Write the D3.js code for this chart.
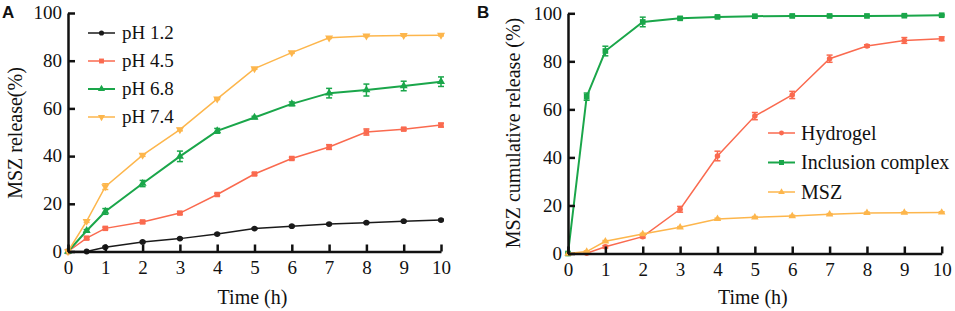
<!DOCTYPE html>
<html>
<head>
<meta charset="utf-8">
<script src="https://cdn.jsdelivr.net/npm/d3@7"></script>
<style>
  body { margin: 0; background: #fff; }
  svg text { font-family: "Liberation Serif", "Times New Roman", serif; fill: #111; }
</style>
</head>
<body>
<svg id="chart" width="955" height="311"></svg>
<script>
// time points (h), shared by both panels
const times = [0, 0.5, 1, 2, 3, 4, 5, 6, 7, 8, 9, 10];
const xTicks = [0, 1, 2, 3, 4, 5, 6, 7, 8, 9, 10];
const yTicks = [0, 20, 40, 60, 80, 100];

// panel A: release at different pH
const namesA = ["pH 1.2", "pH 4.5", "pH 6.8", "pH 7.4"];
const ph12 = [0, 0, 1.8, 4, 5.4, 7.3, 9.6, 10.6, 11.5, 12.1, 12.7, 13.2];
const ph45 = [0, 5.6, 9.7, 12.4, 16.1, 23.9, 32.5, 39, 43.8, 50.1, 51.3, 53];
const ph68 = [0, 8.7, 16.8, 28.5, 39.9, 50.6, 56.2, 61.9, 66.4, 67.7, 69.4, 71.2];
const ph74 = [0, 12.7, 27.2, 40.4, 51.1, 64, 76.7, 83.4, 89.6, 90.4, 90.6, 90.7];
const ph12Err = [0, 0, 0.3, 0.3, 0.3, 0.3, 0.3, 0.3, 0.3, 0.3, 0.3, 0.3];
const ph45Err = [0, 0.5, 0.5, 0.5, 0.5, 0.5, 0.5, 0.5, 1, 1.3, 0.5, 0.8];
const ph68Err = [0, 0.5, 1.2, 1.3, 2.2, 1, 0.5, 0.8, 2, 2.5, 2, 2];
const ph74Err = [0, 0.5, 1.2, 0.5, 0.5, 0.3, 0.3, 0.3, 0.3, 0.3, 0.3, 0.3];

// panel B: hydrogel vs inclusion complex vs free drug
const namesB = ["Hydrogel", "Inclusion complex", "MSZ"];
const hydrogel = [0, 0.1, 2.8, 7, 18.4, 40.6, 57.2, 66, 81.1, 86.4, 88.7, 89.4];
const inclusion = [0, 65.3, 84.3, 96.4, 97.9, 98.5, 98.8, 98.9, 98.9, 98.9, 99, 99.2];
const msz = [0, 0.8, 5.1, 8.1, 10.9, 14.4, 15.1, 15.6, 16.3, 16.9, 17, 17.1];
const hydrogelErr = [0, 0.3, 0.5, 0.5, 1.2, 2, 1.5, 1.5, 1.5, 0.5, 1.2, 0.8];
const inclusionErr = [0, 1.5, 2, 2, 0.5, 0.3, 0.3, 0.3, 0.3, 0.3, 0.3, 0.3];
const mszErr = [0, 0.3, 0.3, 0.3, 0.3, 0.3, 0.3, 0.3, 0.3, 0.3, 0.3, 0.3];

const colors = { black: "#1a1a1a", red: "#fa6a4f", green: "#1aa64a", yellow: "#fdb64c" };

const svg = d3.select("#chart");

function drawPanel(opt) {
  const x = d3.scaleLinear().domain([0, 10]).range([opt.left, opt.right]);
  const y = d3.scaleLinear().domain([0, 100]).range([opt.bottom, opt.top]);
  const g = svg.append("g");

  // series (drawn first so axes sit on top)
  opt.series.forEach(s => {
    const pts = times.map((t, i) => ({ t, v: s.values[i], e: s.err[i] }));
    const sg = g.append("g");
    sg.append("path")
      .datum(pts)
      .attr("fill", "none")
      .attr("stroke", s.color)
      .attr("stroke-width", s.width)
      .attr("d", d3.line().x(d => x(d.t)).y(d => y(d.v)));

    // error bars
    const eb = sg.selectAll(".eb").data(pts.filter(d => d.e > 0)).enter().append("g");
    eb.append("line")
      .attr("x1", d => x(d.t)).attr("x2", d => x(d.t))
      .attr("y1", d => y(d.v - d.e)).attr("y2", d => y(d.v + d.e))
      .attr("stroke", s.color).attr("stroke-width", 1.5);
    eb.append("line")
      .attr("x1", d => x(d.t) - 3).attr("x2", d => x(d.t) + 3)
      .attr("y1", d => y(d.v + d.e)).attr("y2", d => y(d.v + d.e))
      .attr("stroke", s.color).attr("stroke-width", 1.5);
    eb.append("line")
      .attr("x1", d => x(d.t) - 3).attr("x2", d => x(d.t) + 3)
      .attr("y1", d => y(d.v - d.e)).attr("y2", d => y(d.v - d.e))
      .attr("stroke", s.color).attr("stroke-width", 1.5);

    sg.selectAll(".mk").data(pts).enter().append("path")
      .attr("transform", d => `translate(${x(d.t)},${y(d.v)})${s.rot ? " rotate(180)" : ""}`)
      .attr("d", d3.symbol().type(s.symbol).size(s.size))
      .attr("fill", s.color);
  });

  // axes with inward ticks
  g.append("g")
    .attr("transform", `translate(0,${opt.bottom})`)
    .call(d3.axisBottom(x).tickValues(xTicks).tickSizeInner(-7).tickSizeOuter(0).tickPadding(9))
    .call(a => a.selectAll("line, path").attr("stroke", "#111").attr("stroke-width", 2.5))
    .call(a => a.selectAll("text").style("font-size", "19px").attr("font-family", null));

  g.append("g")
    .attr("transform", `translate(${opt.left},0)`)
    .call(d3.axisLeft(y).tickValues(yTicks).tickSizeInner(-7).tickSizeOuter(0).tickPadding(6))
    .call(a => a.selectAll("line, path").attr("stroke", "#111").attr("stroke-width", 2.5))
    .call(a => a.selectAll("text").style("font-size", "19px").attr("dy", "0.3em").attr("font-family", null));

  // axis titles
  g.append("text")
    .attr("x", (opt.left + opt.right) / 2 - 2)
    .attr("y", 304)
    .attr("text-anchor", "middle")
    .style("font-size", "20px")
    .text("Time (h)");

  g.append("text")
    .attr("transform", `translate(${opt.ylabelX},${opt.ylabelY}) rotate(-90)`)
    .attr("text-anchor", "middle")
    .attr("dy", "0.35em")
    .style("font-size", "20px")
    .text(opt.ylabel);

  // panel letter
  g.append("text")
    .attr("x", opt.letterX)
    .attr("y", 18)
    .style("font-family", "'Liberation Sans', Arial, sans-serif")
    .style("font-weight", "bold")
    .style("font-size", "17px")
    .text(opt.letter);

  // legend
  const lg = g.selectAll(".legend").data(opt.series).enter().append("g")
    .attr("transform", (d, i) => `translate(${opt.legX},${opt.legY + i * opt.legStep})`);
  lg.append("line")
    .attr("x1", 0).attr("x2", 27)
    .attr("stroke", d => d.color).attr("stroke-width", d => d.width);
  lg.append("path")
    .attr("transform", d => `translate(13.5,0)${d.rot ? " rotate(180)" : ""}`)
    .attr("d", d => d3.symbol().type(d.symbol).size(d.size * 0.8)())
    .attr("fill", d => d.color);
  lg.append("text")
    .attr("x", opt.legText)
    .attr("dy", "0.33em")
    .style("font-size", opt.legFont)
    .text(d => d.name);
}

drawPanel({
  left: 68, right: 441, top: 13, bottom: 251.5,
  ylabel: "MSZ release(%)", ylabelX: 15, ylabelY: 133,
  letter: "A", letterX: 2,
  legX: 88, legY: 33, legStep: 28, legText: 34, legFont: "19px",
  series: [
    { name: namesA[3], values: ph74, err: ph74Err, color: colors.yellow, symbol: d3.symbolTriangle, rot: true, size: 28, width: 1.5 },
    { name: namesA[2], values: ph68, err: ph68Err, color: colors.green, symbol: d3.symbolTriangle, size: 28, width: 2 },
    { name: namesA[1], values: ph45, err: ph45Err, color: colors.red, symbol: d3.symbolSquare, size: 30, width: 1.5 },
    { name: namesA[0], values: ph12, err: ph12Err, color: colors.black, symbol: d3.symbolCircle, size: 26, width: 1.5 }
  ].reverse()
});

drawPanel({
  left: 568, right: 941.7, top: 13.3, bottom: 253.5,
  ylabel: "MSZ cumulative release (%)", ylabelX: 513, ylabelY: 133,
  letter: "B", letterX: 477,
  legX: 768, legY: 133, legStep: 29.5, legText: 33, legFont: "20px",
  series: [
    { name: namesB[0], values: hydrogel, err: hydrogelErr, color: colors.red, symbol: d3.symbolCircle, size: 24, width: 1.5 },
    { name: namesB[1], values: inclusion, err: inclusionErr, color: colors.green, symbol: d3.symbolSquare, size: 32, width: 2 },
    { name: namesB[2], values: msz, err: mszErr, color: colors.yellow, symbol: d3.symbolTriangle, size: 24, width: 1.5 }
  ]
});
</script>
</body>
</html>
